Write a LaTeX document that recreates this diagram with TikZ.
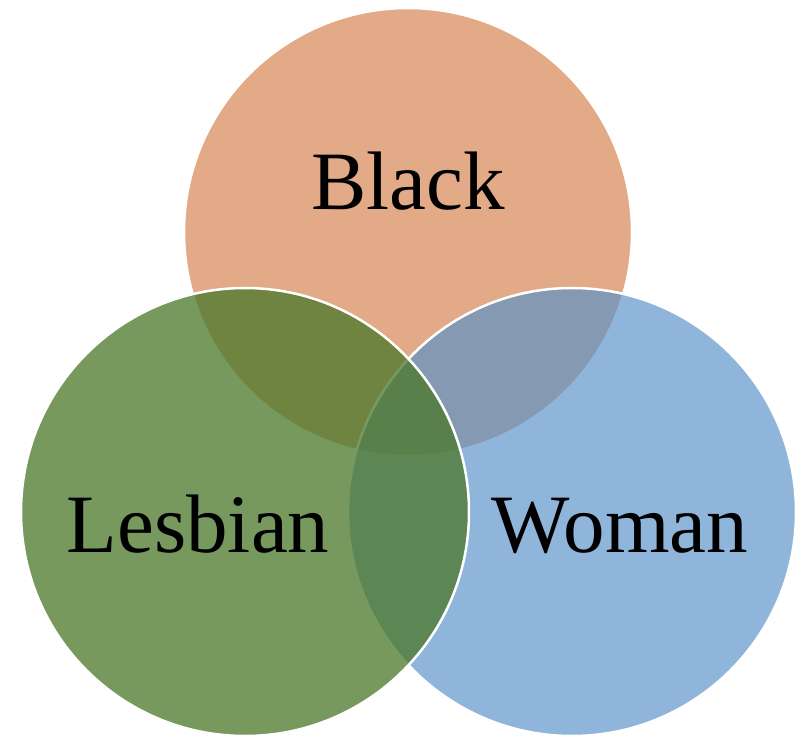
\documentclass[tikz,border=0pt]{standalone}
\usepackage{fontspec}
\setmainfont{Liberation Serif}
\usepackage{tikz}
\usetikzlibrary{positioning}
\definecolor{setB}{RGB}{226,170,134}
\definecolor{setL}{RGB}{76,121,43}
\definecolor{setW}{RGB}{88,145,201}
\tikzset{
  setcirc/.style ={circle, draw=white, line width=2.5pt,
                   minimum size=448pt, inner sep=0pt},
  Bset/.style    ={setcirc, fill=setB},
  Lset/.style    ={setcirc, fill=setL, fill opacity=0.76},
  Wset/.style    ={setcirc, fill=setW, fill opacity=0.67},
  setlabel/.style={anchor=base, inner sep=0pt, text=black,
                   font=\fontsize{83}{90}\selectfont},
}
\begin{document}
\begin{tikzpicture}[x=1pt, y=1pt]
\useasboundingbox (0,0) rectangle (810,737);

% the three sets, drawn back to front
\node[Bset] (black)   at (408,505) {};
\node[Wset] (woman)   at (572,225) {};
\node[Lset] (lesbian) at (245,225) {};

\node[setlabel] (blackT)   at (408,527) {Black};
\node[setlabel] (lesbianT) at (198,185) {Lesbian};
\node[setlabel] (womanT)   at (620,185) {Woman};

\end{tikzpicture}
\end{document}
